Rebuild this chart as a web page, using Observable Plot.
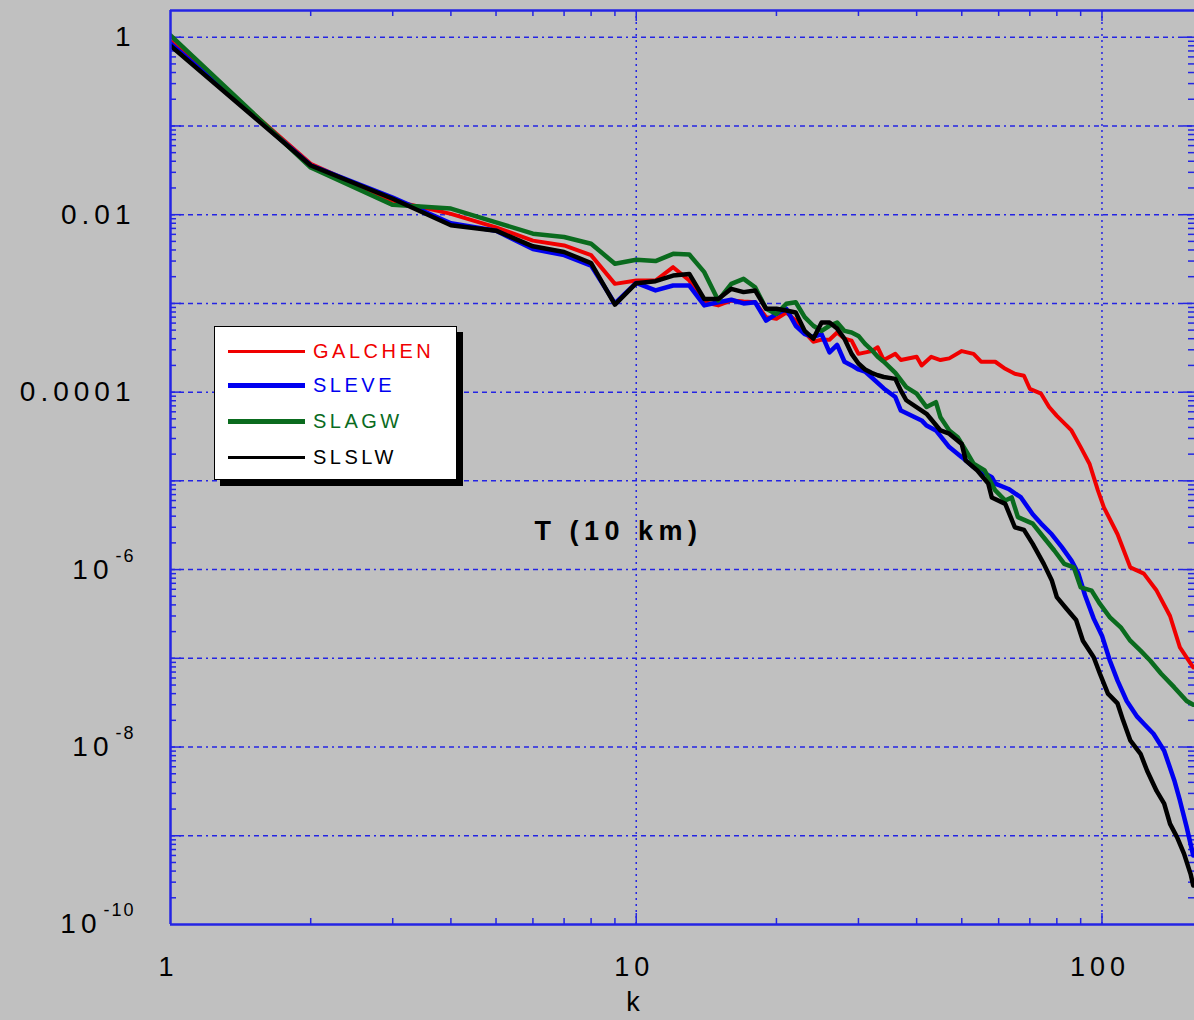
<!DOCTYPE html>
<html>
<head>
<meta charset="utf-8">
<script src="https://cdn.jsdelivr.net/npm/d3@7"></script>
<script src="https://cdn.jsdelivr.net/npm/@observablehq/plot@0.6"></script>
<style>
  html, body { margin: 0; padding: 0; background: #c0c0c0; overflow: hidden; }
  #wrap { position: relative; width: 1194px; height: 1020px; }
  #legend { position: absolute; left: 214px; top: 326px; width: 241px; height: 152px;
            background: #fff; border: 1px solid #000; box-shadow: 6px 6px 0 #000; }
  .lrow { position: absolute; left: 0; width: 100%; height: 0; }
  .lline { position: absolute; left: 13px; width: 77px; }
  .ltext { position: absolute; left: 98px; font: 20px "Liberation Sans", Arial, sans-serif;
           letter-spacing: 3.5px; line-height: 20px; top: -10px; white-space: nowrap; }
</style>
</head>
<body>
<div id="wrap"></div>
<script>
// ---- data (k = wavenumber, v = spectral power) ----
const seriesNames  = ["GALCHEN", "SLEVE", "SLAGW", "SLSLW"];
const seriesColors = ["#f00000", "#0000f0", "#0a6b1e", "#000000"];

const galchen = [[1,0.9],[2,0.0374],[3,0.0144],[4,0.0102],[5,0.0072],[6,0.0051],[7,0.0045],[8,0.0035],[9,0.00166],[10,0.00181],
  [11,0.00181],[12,0.00256],[13,0.00181],[14,0.00103],[15,0.00095],[16,0.00108],[17,0.00105],[18,0.00103],[19,0.0007],[20,0.00067],
  [21,0.00079],[22,0.00064],[23,0.00047],[24,0.00037],[25,0.00039],[26,0.00039],[27,0.00047],[28,0.0004],[29,0.00038],[30,0.00027],
  [32,0.00029],[33,0.00032],[34,0.00023],[36,0.00027],[37,0.00023],[40,0.00025],[41,0.0002],[43,0.00025],[45,0.00023],[47,0.00024],
  [50,0.00029],[53,0.00027],[55,0.00022],[59,0.00022],[62,0.000183],[65,0.000161],[68,0.000153],[70,0.000109],[74,0.000096],[77,0.000068],
  [80,0.000054],[84,0.000042],[86,0.000037],[90,0.000024],[94,0.0000156],[98,0.0000078],[101,0.000005],[108,0.0000025],[115,0.00000106],
  [123,9.0e-7],[131,5.8e-7],[140,3.0e-7],[147,1.33e-7],[157,7.9e-8]];

const sleve = [[1,0.85],[2,0.036],[3,0.0156],[4,0.008],[5,0.0066],[6,0.0041],[7,0.0035],[8,0.00267],[9,0.001],[10,0.0017],
  [11,0.0014],[12,0.00159],[13,0.00159],[14,0.00095],[15,0.00103],[16,0.0011],[17,0.001],[18,0.00103],[19,0.00064],[20,0.00076],
  [21,0.00087],[22,0.00056],[23,0.00045],[24,0.00042],[25,0.00045],[26,0.00028],[27,0.00034],[28,0.00022],[29,0.0002],[30,0.00018],
  [31,0.00017],[32,0.000147],[34,0.00011],[36,0.000088],[37,0.000062],[41,0.000048],[42,0.000042],[44,0.000037],[47,0.000024],[50,0.0000185],
  [53,0.0000143],[58,0.000011],[59,0.0000093],[63,0.0000081],[67,0.0000065],[71,0.0000042],[74,0.0000033],[78,0.0000025],[82,0.00000179],
  [86,0.00000126],[89,9.0e-7],[92,5.1e-7],[96,2.8e-7],[100,1.8e-7],[104,9.4e-8],[108,5.6e-8],[113,3.3e-8],[119,2.2e-8],[123,1.83e-8],
  [129,1.41e-8],[136,9.1e-9],[143,4.2e-9],[147,2.5e-9],[152,1.25e-9],[157,6.0e-10]];

const slagw = [[1,1.05],[2,0.034],[3,0.0129],[4,0.0117],[5,0.0082],[6,0.0061],[7,0.0056],[8,0.0047],[9,0.0028],[10,0.0031],
  [11,0.003],[12,0.00362],[13,0.00355],[14,0.00225],[15,0.00108],[16,0.00166],[17,0.00189],[18,0.00152],[19,0.00087],[20,0.00076],
  [21,0.00099],[22,0.00103],[23,0.0007],[24,0.00056],[25,0.00049],[26,0.00056],[27,0.00061],[28,0.00049],[29,0.00047],[30,0.00043],
  [31,0.00035],[32,0.0003],[33,0.00025],[34,0.00022],[36,0.000165],[38,0.000114],[40,0.000096],[42,0.000068],[44,0.000077],[45,0.000052],
  [47,0.000037],[49,0.000031],[51,0.000022],[53,0.0000156],[56,0.0000131],[59,0.0000078],[62,0.000006],[64,0.0000065],[66,0.0000039],
  [71,0.0000033],[75,0.0000023],[79,0.00000164],[83,0.00000116],[87,0.00000106],[90,6.3e-7],[95,5.8e-7],[99,4.1e-7],[104,2.9e-7],
  [110,2.2e-7],[115,1.58e-7],[121,1.22e-7],[127,9.4e-8],[134,6.7e-8],[143,4.7e-8],[152,3.3e-8],[157,3.0e-8]];

const slslw = [[1,0.8],[2,0.0358],[3,0.0151],[4,0.0076],[5,0.0066],[6,0.0044],[7,0.0038],[8,0.00284],[9,0.00097],[10,0.00169],
  [11,0.00178],[12,0.00206],[13,0.00215],[14,0.00112],[15,0.00112],[16,0.00146],[17,0.00134],[18,0.0014],[19,0.00087],[20,0.00087],
  [21,0.00083],[22,0.00079],[23,0.00049],[24,0.0004],[25,0.00061],[26,0.00061],[27,0.00052],[28,0.0004],[29,0.00027],[30,0.00021],
  [31,0.00018],[32,0.000165],[33,0.000155],[34,0.000148],[36,0.000141],[37,0.000104],[38,0.000081],[42,0.000057],[45,0.000037],[47,0.000034],
  [50,0.000026],[51,0.0000169],[54,0.0000131],[57,0.0000093],[58,0.0000065],[62,0.0000055],[65,0.000003],[68,0.0000028],[71,0.00000195],
  [75,0.00000116],[78,7.6e-7],[80,4.9e-7],[84,3.6e-7],[88,2.7e-7],[91,1.58e-7],[96,1.03e-7],[99,6.7e-8],[103,4.0e-8],[108,3.1e-8],
  [111,2.0e-8],[115,1.19e-8],[121,8.4e-9],[125,5.4e-9],[131,3.2e-9],[136,2.3e-9],[140,1.36e-9],[145,9.6e-10],[150,6.3e-10],[155,3.7e-10],
  [157,2.75e-10]];

const seriesData = [galchen, sleve, slagw, slslw];

// ---- axis ticks / labels ----
const xTicks = [1, 10, 100];
const xTickLabels = ["1", "10", "100"];
const xMinor = [2,3,4,5,6,7,8,9,20,30,40,50,60,70,80,90];
const yTicks = [1, 0.01, 0.0001, 1e-6, 1e-8, 1e-10];
const yTickLabels = ["1", "0.01", "0.0001", "10^-6", "10^-8", "10^-10"];
const yDecades = [1, 0.1, 0.01, 1e-3, 1e-4, 1e-5, 1e-6, 1e-7, 1e-8, 1e-9];
const yMinor = [];
for (const d of [1e-10,1e-9,1e-8,1e-7,1e-6,1e-5,1e-4,1e-3,0.01,0.1]) for (let m = 2; m <= 9; m++) yMinor.push(+(m * d).toPrecision(3));
const xLabel = "k";
const titleText = "T (10 km)";

// ---- layout ----
const W = 1194, H = 1020;
const mL = 170, mT = 10, mB = 96, mR = 0;
const plotW = W - mL - mR, plotH = H - mT - mB;
const AX = "#2424e4";
const FONT = '"Liberation Sans", Arial, sans-serif';

const rows = seriesData.flatMap((pairs, i) => pairs.map(([k, v]) => ({series: seriesNames[i], k, v})));
const lineWidths = [4, 4.5, 4.5, 4.5];

const chart = Plot.plot({
  width: W, height: H,
  marginLeft: mL, marginRight: mR, marginTop: mT, marginBottom: mB,
  x: {type: "log", domain: [1, 158], axis: null},
  y: {type: "log", domain: [1e-10, 2], axis: null},
  style: {background: "#c0c0c0", fontFamily: FONT, color: "black", letterSpacing: "5px"},
  marks: [
    Plot.ruleY(yDecades, {stroke: AX, strokeWidth: 1.5, strokeDasharray: "5,4,5,4,5,4,5,4,2,4"}),
    Plot.ruleX([10, 100], {stroke: AX, strokeWidth: 1.5, strokeDasharray: "2,4"}),
    Plot.tickY(yMinor, {stroke: AX, strokeWidth: 1.5, insetRight: plotW - 6}),
    Plot.tickY(yMinor, {stroke: AX, strokeWidth: 1.5, insetLeft: plotW - 6}),
    Plot.tickY(yDecades, {stroke: AX, strokeWidth: 1.5, insetRight: plotW - 11}),
    Plot.tickY(yDecades, {stroke: AX, strokeWidth: 1.5, insetLeft: plotW - 11}),
    Plot.tickX(xMinor, {stroke: AX, strokeWidth: 1.5, insetBottom: plotH - 6}),
    Plot.tickX(xMinor, {stroke: AX, strokeWidth: 1.5, insetTop: plotH - 6}),
    Plot.tickX([10, 100], {stroke: AX, strokeWidth: 1.5, insetBottom: plotH - 11}),
    Plot.tickX([10, 100], {stroke: AX, strokeWidth: 1.5, insetTop: plotH - 11}),
    ...seriesNames.map((name, i) => Plot.line(rows.filter(r => r.series === name), {
      x: "k", y: "v", stroke: seriesColors[i], strokeWidth: lineWidths[i], strokeLinejoin: "round", clip: true
    })),
    Plot.ruleX([1], {stroke: AX, strokeWidth: 2.5}),
    Plot.ruleY([1e-10, 2], {stroke: AX, strokeWidth: 2.5}),
    Plot.text(yTicks, {y: d => d, text: (d, i) => yTickLabels[i], frameAnchor: "left", dx: -35,
      textAnchor: "end", lineAnchor: "middle", fontSize: 28, fill: "black"}),
    Plot.text(xTicks, {x: d => d, text: (d, i) => xTickLabels[i], frameAnchor: "bottom", dy: 43, dx: -2,
      textAnchor: "middle", lineAnchor: "middle", fontSize: 27, fill: "black"}),
    Plot.text([xLabel], {text: d => d, frameAnchor: "bottom-left", dx: 465, dy: 78,
      textAnchor: "middle", lineAnchor: "middle", fontSize: 27, fill: "black"}),
    Plot.text([titleText], {text: d => d, frameAnchor: "top-left", dx: 448, dy: 521,
      textAnchor: "middle", lineAnchor: "middle", fontSize: 27, fontWeight: "bold", fill: "black"})
  ]
});

// superscript exponents on the y tick labels
chart.querySelectorAll("text").forEach(t => {
  const s = t.textContent;
  if (s.includes("^")) {
    const [base, exp] = s.split("^");
    t.textContent = "";
    const ns = "http://www.w3.org/2000/svg";
    const b = document.createElementNS(ns, "tspan"); b.textContent = base;
    const e = document.createElementNS(ns, "tspan"); e.textContent = exp;
    e.setAttribute("dy", "-17"); e.setAttribute("font-size", "18"); e.setAttribute("dx", "2");
    e.style.letterSpacing = "2px";
    t.appendChild(b); t.appendChild(e);
  }
  if (t.textContent === titleText) t.style.letterSpacing = "5.5px";
});

const wrap = document.getElementById("wrap");
wrap.appendChild(chart);

// legend box
const legend = document.createElement("div");
legend.id = "legend";
const rowY = [24, 58, 94, 130];
const legendLineW = [3, 5, 5, 3];
seriesNames.forEach((name, i) => {
  const r = document.createElement("div");
  r.className = "lrow"; r.style.top = rowY[i] + "px";
  const l = document.createElement("div");
  l.className = "lline"; l.style.background = seriesColors[i];
  l.style.height = legendLineW[i] + "px"; l.style.top = (-legendLineW[i] / 2) + "px";
  const tx = document.createElement("div");
  tx.className = "ltext"; tx.style.color = seriesColors[i]; tx.textContent = name;
  r.appendChild(l); r.appendChild(tx);
  legend.appendChild(r);
});
wrap.appendChild(legend);
</script>
</body>
</html>
